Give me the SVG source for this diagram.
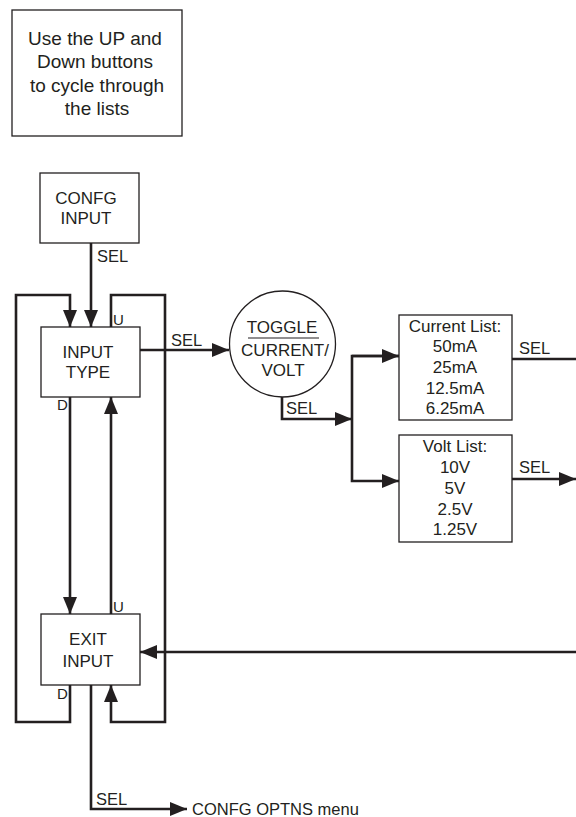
<svg xmlns="http://www.w3.org/2000/svg" width="576" height="817" viewBox="0 0 576 817">
<style>
.box{fill:#fff;stroke:#231f20;stroke-width:1.3}
.ln{fill:none;stroke:#231f20;stroke-width:2.6}
.t{font-family:"Liberation Sans",Arial,sans-serif;font-size:17px;fill:#231f20}
.c{text-anchor:middle}
.s{font-size:15px}
.l{font-size:16.5px}
.n{font-size:19px}
</style>
<defs>
<marker id="ah" markerUnits="userSpaceOnUse" markerWidth="18" markerHeight="16" refX="17" refY="7" orient="auto">
<path d="M0,0 L17,7 L0,14 Z" fill="#231f20"/>
</marker>
</defs>
<g id="note">
<rect class="box" x="12" y="10" width="170" height="126"/>
<text class="t c n" x="95" y="45">Use the UP and</text>
<text class="t c n" x="95" y="68">Down buttons</text>
<text class="t c n" x="97" y="92">to cycle through</text>
<text class="t c n" x="97" y="115">the lists</text>
</g>
<g id="connectors">
<path class="ln" d="M91,243 V327" marker-end="url(#ah)"/>
<path class="ln" d="M70,685 V722 H16 V295 H70 V327" marker-end="url(#ah)"/>
<path class="ln" d="M111,327 V295 H165 V722 H111 V685" marker-end="url(#ah)"/>
<path class="ln" d="M70,397 V614" marker-end="url(#ah)"/>
<path class="ln" d="M111,614 V397" marker-end="url(#ah)"/>
<path class="ln" d="M140,350 H229" marker-end="url(#ah)"/>
<path class="ln" d="M282,397 V419 H352" marker-end="url(#ah)"/>
<path class="ln" d="M399,356 H352 V481 H399" marker-end="url(#ah)"/>
<path class="ln" d="M352,356 H399" marker-end="url(#ah)"/>
<path class="ln" d="M512,359 H576"/>
<path class="ln" d="M512,479 H576" marker-end="url(#ah)"/>
<path class="ln" d="M576,652 H140" marker-end="url(#ah)"/>
<path class="ln" d="M91,685 V809 H187" marker-end="url(#ah)"/>
<text class="t l" x="97" y="262">SEL</text>
<text class="t s" x="113" y="325">U</text>
<text class="t s" x="57" y="410">D</text>
<text class="t s" x="113" y="612">U</text>
<text class="t s" x="57" y="699">D</text>
<text class="t l" x="171" y="346">SEL</text>
<text class="t l" x="286" y="414">SEL</text>
<text class="t l" x="519" y="354">SEL</text>
<text class="t l" x="519" y="473">SEL</text>
<text class="t l" x="96" y="805">SEL</text>
<text class="t l" x="192" y="815">CONFG OPTNS menu</text>
</g>
<g id="confg-input">
<rect class="box" x="40" y="173" width="99" height="70"/>
<text class="t c" x="86" y="204">CONFG</text>
<text class="t c" x="86" y="224">INPUT</text>
</g>
<g id="input-type">
<rect class="box" x="41" y="327" width="99" height="70"/>
<text class="t c" x="88" y="358">INPUT</text>
<text class="t c" x="88" y="378">TYPE</text>
</g>
<g id="exit-input">
<rect class="box" x="41" y="614" width="99" height="71"/>
<text class="t c" x="88" y="645">EXIT</text>
<text class="t c" x="88" y="667">INPUT</text>
</g>
<g id="toggle">
<circle class="box" cx="282.5" cy="344" r="53"/>
<text class="t c" x="282" y="333">TOGGLE</text>
<line x1="248" y1="338" x2="319" y2="338" stroke="#231f20" stroke-width="1.2"/>
<text class="t c" x="285" y="356">CURRENT/</text>
<text class="t c" x="283" y="376">VOLT</text>
</g>
<g id="current-list">
<rect class="box" x="399" y="315" width="113" height="105"/>
<text class="t c" x="455" y="332">Current List:</text>
<text class="t c" x="455" y="352">50mA</text>
<text class="t c" x="455" y="373">25mA</text>
<text class="t c" x="455" y="394">12.5mA</text>
<text class="t c" x="455" y="414">6.25mA</text>
</g>
<g id="volt-list">
<rect class="box" x="399" y="435" width="113" height="107"/>
<text class="t c" x="455" y="452">Volt List:</text>
<text class="t c" x="455" y="473">10V</text>
<text class="t c" x="455" y="494">5V</text>
<text class="t c" x="455" y="515">2.5V</text>
<text class="t c" x="455" y="535">1.25V</text>
</g>
</svg>
